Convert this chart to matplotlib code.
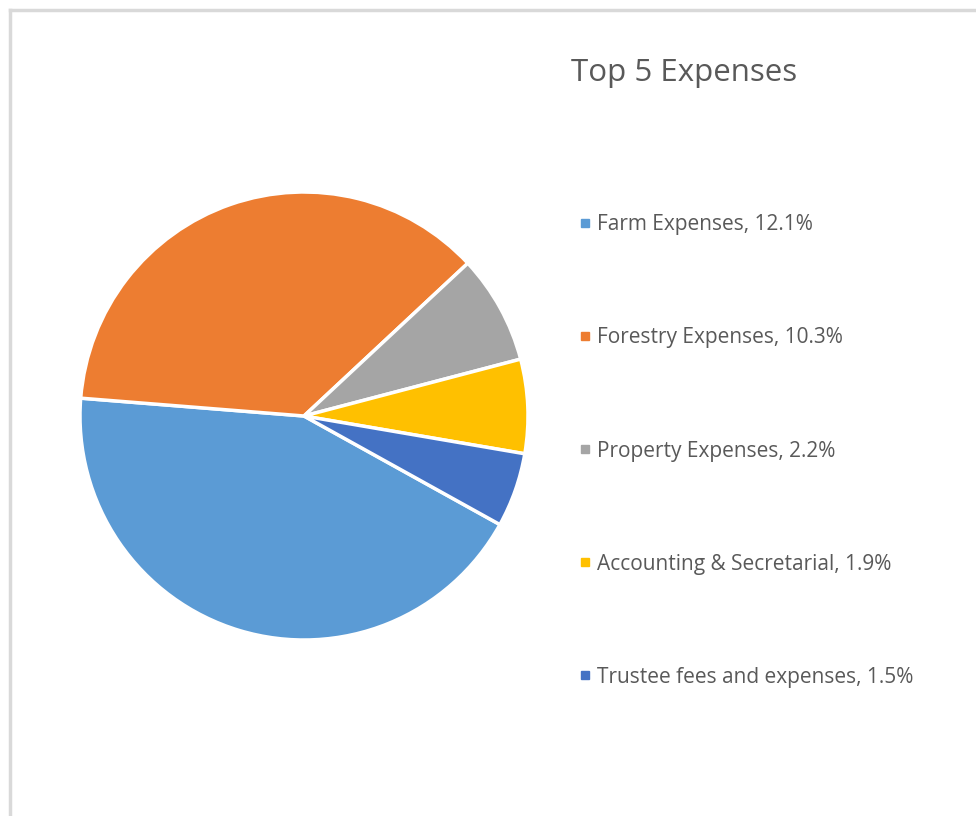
import matplotlib.pyplot as plt
from matplotlib.lines import Line2D

# Data
categories = ['Farm Expenses', 'Forestry Expenses', 'Property Expenses',
              'Accounting & Secretarial', 'Trustee fees and expenses']
values = [12.1, 10.3, 2.2, 1.9, 1.5]
colors = ['#5B9BD5', '#ED7D31', '#A5A5A5', '#FFC000', '#4472C4']
text_color = '#595959'

plt.rcParams['font.family'] = ['Open Sans', 'DejaVu Sans']

fig = plt.figure(figsize=(9.76, 8.16), dpi=100)

# light gray chart border (top and left)
fig.add_artist(Line2D([10 / 976, 10 / 976], [0, 1 - 10 / 816], color='#d9d9d9', lw=2.5))
fig.add_artist(Line2D([10 / 976, 1], [1 - 10 / 816, 1 - 10 / 816], color='#d9d9d9', lw=2.5))

ax = fig.add_axes([80 / 976, (816 - 416 - 224) / 816, 448 / 976, 448 / 816])
wedges, _ = ax.pie(values, colors=colors, startangle=-29, counterclock=False,
                   wedgeprops=dict(edgecolor='white', linewidth=2.5))
ax.set_xlim(-1, 1)
ax.set_ylim(-1, 1)
ax.set_aspect('equal')

fig.text(571 / 976, 1 - 73 / 816, 'Top 5 Expenses', fontsize=22.5, color=text_color,
         ha='left', va='center')

labels = [f'{c}, {v}%' for c, v in zip(categories, values)]
handles = [Line2D([], [], marker='s', linestyle='none', markersize=6,
                  markerfacecolor=col, markeredgecolor=col) for col in colors]
leg = fig.legend(handles, labels, loc='center left',
                 bbox_to_anchor=(561 / 976, 1 - 451 / 816), frameon=False,
                 fontsize=15, labelcolor=text_color, handlelength=0.5,
                 handletextpad=0.35, labelspacing=4.42)

fig.savefig('out.png', dpi=100)
